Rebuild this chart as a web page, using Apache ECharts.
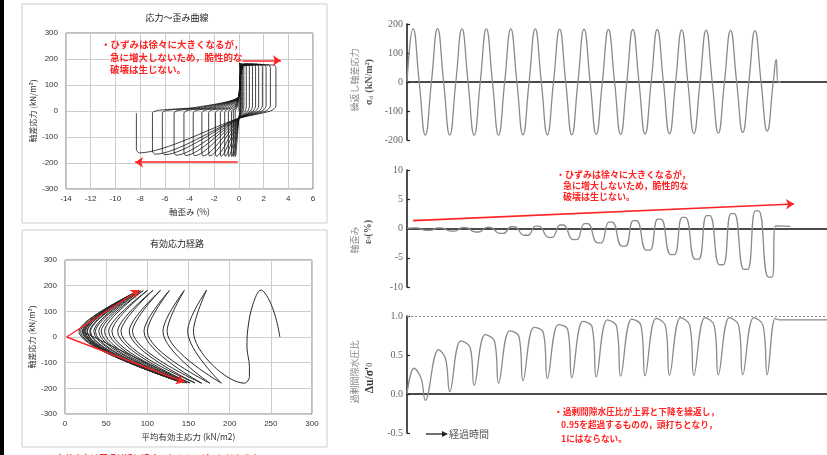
<!DOCTYPE html>
<html><head><meta charset="utf-8">
<script src="https://cdn.jsdelivr.net/npm/echarts@6/dist/echarts.min.js"></script>
<style>html,body{margin:0;padding:0;background:#fff}#c{width:827px;height:455px}</style>
</head><body><div id="c"></div>
<script>
// ---------- data ----------
const cycles = [1,2,3,4,5,6,7,8,9,10,11,12,13,14,15];
const stressPeak   = [184,184,183,183,183,183,182,182,181,181,181,180,179,178,177];
const stressTrough = [-183,-183,-183,-183,-182,-182,-182,-181,-181,-180,-179,-178,-176,-174,-169];
const stressSpike  = [[15.0,0],[15.12,78],[15.2,0],[15.3,0]];
const strainPeak   = [0.1,0.1,0.15,0.2,0.3,0.4,0.6,0.85,1.1,1.35,1.6,1.9,2.2,2.55,3.0];
const strainTrough = [-0.3,-0.45,-0.6,-0.85,-1.15,-1.5,-1.9,-2.45,-3.0,-3.7,-4.45,-5.25,-6.2,-7.0,-8.3];
const strainEnd    = [[15.1,0.45],[15.7,0.35]];
const poreTop      = [0.33,0.57,0.68,0.76,0.81,0.855,0.89,0.93,0.95,0.96,0.97,0.98,0.98,0.98,0.98];
const poreShoulder = [0.2,0.45,0.6,0.68,0.74,0.79,0.83,0.86,0.87,0.88,0.88,0.88,0.88,0.88,0.88];
const poreTrough   = [-0.08,0.03,0.11,0.14,0.17,0.2,0.21,0.22,0.23,0.235,0.24,0.24,0.245,0.245,0.245];
const poreEnd      = [[15.08,0.97],[15.25,0.95],[17.2,0.95]];
// effective stress path (p', q)
const pathStartP = [261,256,247], pathStartQ = [0,75,150];
const firstDescentP = [228,222,221,224,224], firstDescentQ = [125,30,-40,-115,-155];
const pathTop    = [238,172,145,127,116,107,100,95,92,90,89,88,88,87,87];
const pathBottom = [218,190,176,166,158,152,148,145,143,142,141,140,140,140,140];
const pathCuspAfterTop    = [221,149,119,96,78,64,53,44,37,31,27,24,21,19,17];
const pathCuspAfterBottom = [156,124,100,82,68,57,48,41,35,30,27,25,23,22,21];
const pathCuspQ = 22;
// stress-strain loop shape levels
const upperBranchAtZero = 55, lowerBranchAtZero = -28;
// tick labels
const ssTicksX = [-14,-12,-10,-8,-6,-4,-2,0,2,4,6];
const pathTicksX = [0,50,100,150,200,250,300];
const leftTicksY = [-300,-200,-100,0,100,200,300];
// annotation arrows (data coordinates)
const ssArrowUp = [[0.3,194],[3.4,194]];
const ssArrowDown = [[-0.1,-197],[-8.4,-197]];
const pathArrowTop = [[2,0],[90,183]];
const pathArrowBottom = [[2,0],[145,-176]];
const strainArrow = [[0.25,1.35],[15.85,4.2]];

// ---------- build series from the arrays ----------
const stressSeries = [[0,0]];
cycles.forEach((c,i)=>{ stressSeries.push([i+0.25,stressPeak[i]],[i+0.5,0],[i+0.75,stressTrough[i]],[i+1,0]); });
stressSpike.slice(1).forEach(p=>stressSeries.push(p));

const strainSeries = [[0,0]];
cycles.forEach((c,i)=>{ strainSeries.push([i+0.27,strainPeak[i]],[i+0.4,strainPeak[i]],[i+0.8,strainTrough[i]],[i+0.95,strainTrough[i]]); });
strainEnd.forEach(p=>strainSeries.push(p));

const poreSeries = [[0,0]];
cycles.forEach((c,i)=>{ poreSeries.push([i+(i<2?0.29:0.2),poreTop[i]],[i+0.58,poreShoulder[i]],[i+0.75,poreTrough[i]]); });
poreEnd.forEach(p=>poreSeries.push(p));

const loopData = [[0,0]];
cycles.forEach((c,i)=>{
  const P=strainPeak[i], T=strainTrough[i], Tp=i?strainTrough[i-1]:0;
  if(i) loopData.push([Tp*0.92,3],[Tp*0.5,14]);
  loopData.push([0,upperBranchAtZero],[Math.min(0.1,P),125],[Math.min(0.3,P),stressPeak[i]-4],
    [Math.max(P-0.15,0.05),stressPeak[i]],[P,stressPeak[i]-12],[P,20],[P*0.85,0],
    [0,lowerBranchAtZero],[T*0.97,stressTrough[i]+8],[T,stressTrough[i]+20],[T,-8]);
});

const pathData = pathStartP.map((p,i)=>[p,pathStartQ[i]]);
cycles.forEach((c,i)=>{
  pathData.push([pathTop[i],stressPeak[i]-1]);
  if(i===0) firstDescentP.forEach((p,j)=>pathData.push([p,firstDescentQ[j]]));
  else pathData.push([pathCuspAfterTop[i],pathCuspQ]);
  pathData.push([pathBottom[i],stressTrough[i]+3]);
  pathData.push([pathCuspAfterBottom[i],pathCuspQ]);
});

// ---------- chart ----------
const red = '#ff2424';
const jp = 'Noto Sans CJK JP';
const leftLabel = {color:'#333',fontSize:8,fontFamily:'Liberation Sans'};
const rightLabel = {color:'#666',fontSize:10,fontFamily:'Liberation Serif',margin:4};
const chart = echarts.init(document.getElementById('c'));
function leftX(grid,min,max,interval,name){
  return {gridIndex:grid,type:'value',min,max,interval,axisLine:{show:false},axisTick:{show:false},
    axisLabel:{...leftLabel,margin:6},splitLine:{lineStyle:{color:'#cccccc',width:1}},
    name,nameLocation:'middle',nameGap:19,nameTextStyle:{fontSize:8.5,color:'#333',fontFamily:jp}};
}
function leftY(grid){
  return {gridIndex:grid,type:'value',min:-300,max:300,interval:100,axisLine:{show:false},axisTick:{show:false},
    axisLabel:{...leftLabel,margin:8},splitLine:{lineStyle:{color:'#cccccc',width:1}},
    name:'軸差応力 (kN/m²)',nameLocation:'middle',nameGap:29,nameRotate:90,
    nameTextStyle:{fontSize:8,color:'#333',fontFamily:jp}};
}
function rightX(grid){
  return {gridIndex:grid,type:'value',min:0,max:17.2,axisLabel:{show:false},axisTick:{show:false},
    splitLine:{show:false},axisLine:{show:true,onZero:true,lineStyle:{color:'#111',width:1.6}}};
}
function rightY(grid,min,max,interval,fmt){
  return {gridIndex:grid,type:'value',min,max,interval,splitLine:{show:false},
    axisLine:{show:true,onZero:false,lineStyle:{color:'#222',width:1.6}},
    axisTick:{show:true,inside:true,length:3,lineStyle:{color:'#222',width:1.2}},
    axisLabel:{...rightLabel,formatter:fmt}};
}
const arrowML = (pairs,width)=>({silent:true,symbol:['none','arrow'],symbolSize:8,
  lineStyle:{color:red,width:width||1.5,type:'solid'},label:{show:false},emphasis:{disabled:true},
  data:pairs.map(pr=>[{coord:pr[0],symbol:'none'},{coord:pr[1],symbol:'arrow',symbolSize:8}])});

const option = {
  animation:false,
  backgroundColor:'#fff',
  grid:[
    {left:66,top:33,width:247,height:156,show:true,borderColor:'#7d7d7d',borderWidth:1,outerBoundsMode:'none'},
    {left:65,top:260,width:247,height:154,show:true,borderColor:'#7d7d7d',borderWidth:1,outerBoundsMode:'none'},
    {left:407,top:24,width:420,height:116,outerBoundsMode:'none'},
    {left:407,top:170,width:420,height:117,outerBoundsMode:'none'},
    {left:407,top:316,width:420,height:117,outerBoundsMode:'none'}
  ],
  xAxis:[
    leftX(0,ssTicksX[0],ssTicksX[ssTicksX.length-1],2,'軸歪み (%)'),
    leftX(1,pathTicksX[0],pathTicksX[pathTicksX.length-1],50,'平均有効主応力 (kN/m2)'),
    rightX(2),rightX(3),rightX(4)
  ],
  yAxis:[
    leftY(0),leftY(1),
    rightY(2,-200,200,100,v=>String(v)),
    rightY(3,-10,10,5,v=>String(v)),
    rightY(4,-0.5,1.0,0.5,v=>v.toFixed(1))
  ],
  series:[
    {type:'line',xAxisIndex:0,yAxisIndex:0,data:loopData,showSymbol:false,smooth:0.25,
     lineStyle:{color:'#111',width:0.8},markLine:arrowML([ssArrowUp,ssArrowDown],1.6)},
    {type:'line',xAxisIndex:1,yAxisIndex:1,data:pathData,showSymbol:false,smooth:0.35,
     lineStyle:{color:'#2a2a2a',width:1.0},markLine:arrowML([pathArrowTop,pathArrowBottom],1.4)},
    {type:'line',xAxisIndex:2,yAxisIndex:2,data:stressSeries,showSymbol:false,smooth:0.5,
     lineStyle:{color:'#8a8a8a',width:1.3}},
    {type:'line',xAxisIndex:3,yAxisIndex:3,data:strainSeries,showSymbol:false,smooth:0.5,
     lineStyle:{color:'#8a8a8a',width:1.3},markLine:arrowML([strainArrow],1.6)},
    {type:'line',xAxisIndex:4,yAxisIndex:4,data:poreSeries,showSymbol:false,smooth:0.4,
     lineStyle:{color:'#8a8a8a',width:1.3},
     markLine:{silent:true,symbol:'none',label:{show:false},lineStyle:{color:'#888',type:[2,2],width:1},data:[{yAxis:1}]}}
  ],
  graphic:[
    {type:'rect',z:-10,shape:{x:0,y:0,width:4,height:455},style:{fill:'#000'}},
    {type:'rect',z:-10,shape:{x:22,y:4,width:305,height:219},style:{fill:'none',stroke:'#cdcdcd',lineWidth:1}},
    {type:'rect',z:-10,shape:{x:22,y:230,width:305,height:217},style:{fill:'none',stroke:'#cdcdcd',lineWidth:1}},
    {type:'text',x:177,y:18,style:{text:'応力～歪み曲線',font:'9px "Noto Sans CJK JP"',fill:'#222',textAlign:'center',textVerticalAlign:'middle'}},
    {type:'text',x:177,y:244,style:{text:'有効応力経路',font:'9px "Noto Sans CJK JP"',fill:'#222',textAlign:'center',textVerticalAlign:'middle'}},
    // red notes
    {type:'text',x:101,y:44,z:10,style:{text:'・ひずみは徐々に大きくなるが，',font:'bold 9.5px "Noto Sans CJK JP"',fill:red,textVerticalAlign:'middle'}},
    {type:'text',x:110,y:57,z:10,style:{text:'急に増大しないため，脆性的な',font:'bold 9.5px "Noto Sans CJK JP"',fill:red,textVerticalAlign:'middle'}},
    {type:'text',x:110,y:69,z:10,style:{text:'破壊は生じない。',font:'bold 9.5px "Noto Sans CJK JP"',fill:red,textVerticalAlign:'middle'}},
    {type:'text',x:556,y:175,z:10,style:{text:'・ひずみは徐々に大きくなるが，',font:'bold 9px "Noto Sans CJK JP"',fill:red,textVerticalAlign:'middle'}},
    {type:'text',x:563,y:186,z:10,style:{text:'急に増大しないため，脆性的な',font:'bold 9px "Noto Sans CJK JP"',fill:red,textVerticalAlign:'middle'}},
    {type:'text',x:563,y:197,z:10,style:{text:'破壊は生じない。',font:'bold 9px "Noto Sans CJK JP"',fill:red,textVerticalAlign:'middle'}},
    {type:'text',x:554,y:412,z:10,style:{text:'・過剰間隙水圧比が上昇と下降を繰返し，',font:'bold 8.7px "Noto Sans CJK JP"',fill:red,textVerticalAlign:'middle'}},
    {type:'text',x:561,y:425,z:10,style:{text:'0.95を超過するものの，頭打ちとなり，',font:'bold 8.7px "Noto Sans CJK JP"',fill:red,textVerticalAlign:'middle'}},
    {type:'text',x:561,y:439,z:10,style:{text:'1にはならない。',font:'bold 8.7px "Noto Sans CJK JP"',fill:red,textVerticalAlign:'middle'}},
    {type:'text',x:48,y:458,z:10,style:{text:'・有効応力は原点付近に達するものの，ゼロにはならない。',font:'bold 8.5px "Noto Sans CJK JP"',fill:red,textVerticalAlign:'middle'}},
    // right axis names
    {type:'text',x:355,y:80,rotation:Math.PI/2,style:{text:'繰返し軸差応力',font:'9px "Noto Sans CJK JP"',fill:'#8a8a8a',textAlign:'center',textVerticalAlign:'middle'}},
    {type:'text',x:369,y:82,rotation:Math.PI/2,style:{text:'{a|σ}{s|d} {a|(kN/m²)}',textAlign:'center',textVerticalAlign:'middle',
      rich:{a:{fontFamily:'Liberation Serif',fontSize:10,fill:'#555',fontWeight:'bold'},s:{fontFamily:'Liberation Serif',fontSize:7,fill:'#555',verticalAlign:'bottom'}}}},
    {type:'text',x:355,y:240,rotation:Math.PI/2,style:{text:'軸歪み',font:'9px "Noto Sans CJK JP"',fill:'#8a8a8a',textAlign:'center',textVerticalAlign:'middle'}},
    {type:'text',x:368,y:232,rotation:Math.PI/2,style:{text:'{a|ε}{s|a}{a|(%)}',textAlign:'center',textVerticalAlign:'middle',
      rich:{a:{fontFamily:'Liberation Serif',fontSize:10,fill:'#555',fontWeight:'bold'},s:{fontFamily:'Liberation Serif',fontSize:7,fill:'#555'}}}},
    {type:'text',x:355,y:372,rotation:Math.PI/2,style:{text:'過剰間隙水圧比',font:'9px "Noto Sans CJK JP"',fill:'#8a8a8a',textAlign:'center',textVerticalAlign:'middle'}},
    {type:'text',x:370,y:378,rotation:Math.PI/2,style:{text:"{a|Δu/σ'}{s|0}",textAlign:'center',textVerticalAlign:'middle',
      rich:{a:{fontFamily:'Liberation Serif',fontSize:11.5,fill:'#333',fontWeight:'bold'},s:{fontFamily:'Liberation Serif',fontSize:8,fill:'#333'}}}},
    // elapsed time arrow
    {type:'line',shape:{x1:426,y1:434,x2:444,y2:434},style:{stroke:'#222',lineWidth:1.3}},
    {type:'polygon',shape:{points:[[448,434],[442,431],[442,437]]},style:{fill:'#222'}},
    {type:'text',x:449,y:434,style:{text:'経過時間',font:'10px "Noto Sans CJK JP"',fill:'#555',textVerticalAlign:'middle'}}
  ]
};
chart.setOption(option);
</script></body></html>
